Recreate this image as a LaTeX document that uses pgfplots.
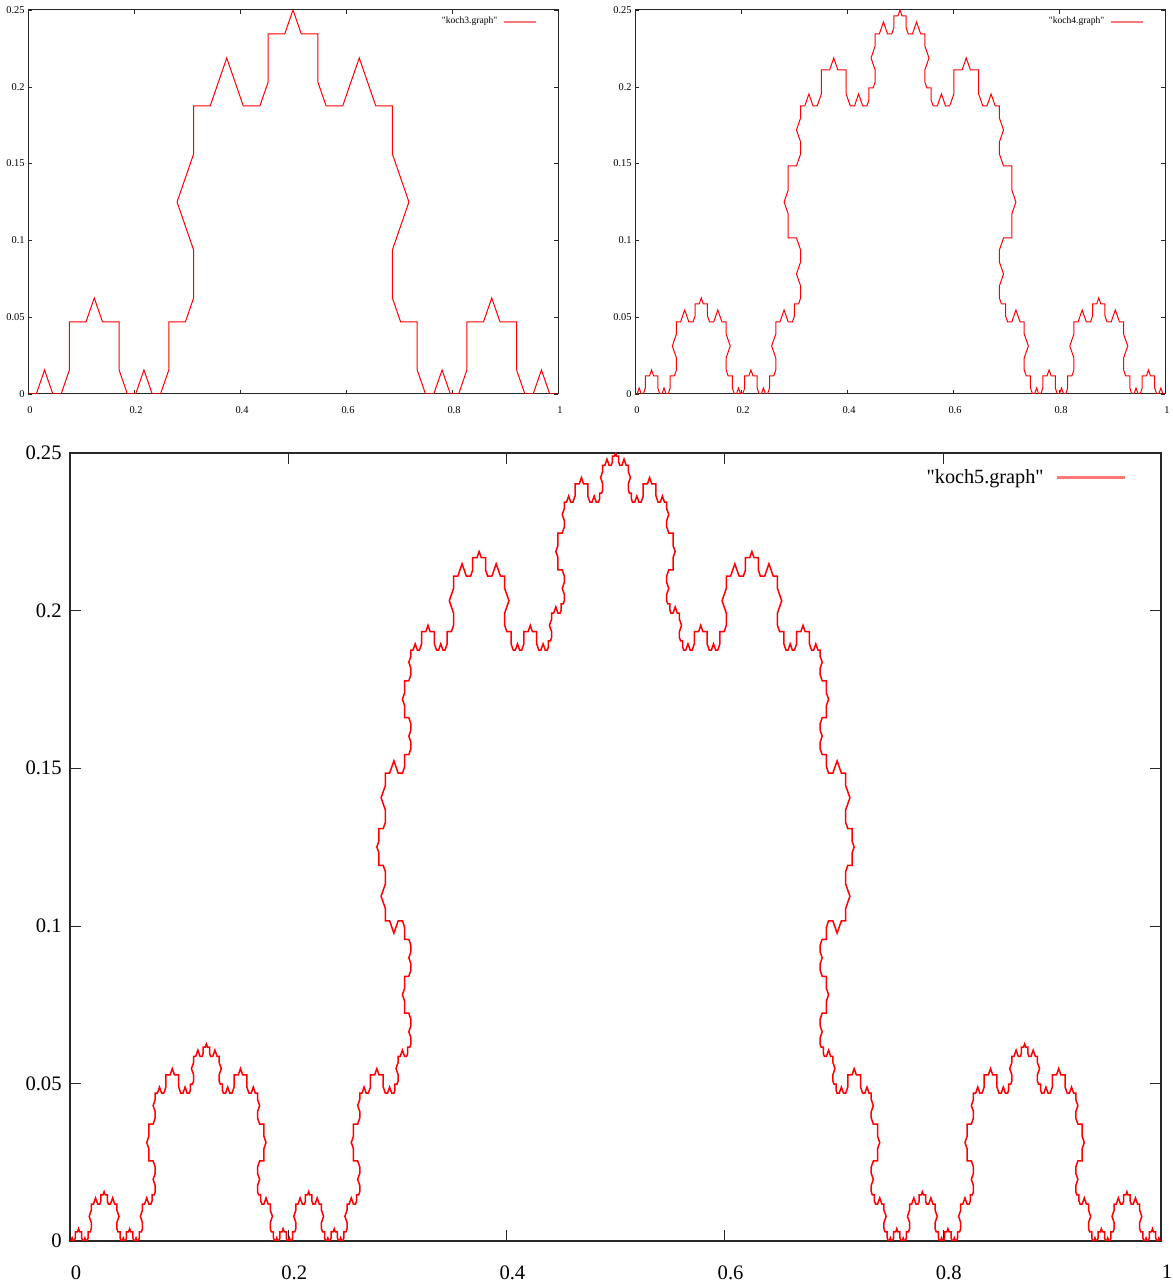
\documentclass[border=0pt]{standalone}
\usepackage{fontspec}
\setmainfont{Liberation Serif}[Ligatures=TeXOff]
\usepackage{pgfplots}
\pgfplotsset{compat=1.18}

\definecolor{curve}{RGB}{255,0,0}
\definecolor{keyline}{RGB}{255,120,120}
\definecolor{frame}{RGB}{40,40,40}

% gnuplot-like boxed axes, ticks inside on all four sides
\pgfplotsset{
  koch/.style={
    scale only axis, anchor=south west,
    xmin=0, xmax=1, ymin=0, ymax=0.25,
    xtick={0,0.2,0.4,0.6,0.8,1},
    xticklabels={0,0.2,0.4,0.6,0.8,1},
    ytick={0,0.05,0.1,0.15,0.2,0.25},
    yticklabels={0,0.05,0.1,0.15,0.2,0.25},
    tick align=inside,
    axis line style={frame},
    major tick style={frame},
    legend plot pos=right,
    legend style={draw=none, fill=none, anchor=east, at={(rel axis cs:1,1)}},
  },
  small koch/.style={koch,
    width=265pt, height=192pt,
    axis line style={line width=0.5pt},
    major tick length=2.2pt,
    tick label style={font=\fontsize{5.2}{6}\selectfont, inner sep=0pt},
    xticklabel style={yshift=-6pt, xshift=1pt},
    yticklabel style={xshift=-1.5pt},
    legend style={font=\fontsize{4.8}{5}\selectfont, xshift=-7.5pt, yshift=-6pt,
      column sep=3pt, nodes={inner sep=0pt}},
    legend image code/.code={\draw[keyline, line width=0.6pt] (0pt,0pt) -- (16pt,0pt);},
  },
  big koch/.style={koch,
    width=545.5pt, height=394pt,
    axis line style={line width=1.2pt},
    major tick length=5.5pt,
    tick label style={font=\fontsize{10.3}{12}\selectfont, inner sep=0pt},
    xticklabel style={yshift=-12pt, xshift=3pt},
    yticklabel style={xshift=-4pt},
    legend style={font=\fontsize{10.1}{12}\selectfont, xshift=-14pt, yshift=-12.5pt,
      column sep=6pt, nodes={inner sep=0pt}},
    legend image code/.code={\draw[keyline, line width=1.5pt] (0pt,0pt) -- (34pt,0pt);},
  },
}

\begin{document}
\begin{tikzpicture}
\useasboundingbox (0,0) rectangle (586pt,642pt);

% level 3, coordinates in units of 1/64
\begin{axis}[small koch, at={(14pt,445pt)}]
\addplot[curve, line width=0.5pt, x filter/.expression={x/64}, y filter/.expression={y/64}] coordinates {
(0,0)(1,0)(2,1)(3,0)(4,0)(5,1)(5,3)(7,3)(8,4)(9,3)(11,3)(11,1)(12,0)(13,0)(14,1)(15,0)
(16,0)(17,1)(17,3)(19,3)(20,4)(20,6)(18,8)(20,10)(20,12)(22,12)(24,14)(26,12)(28,12)(29,13)(29,15)(31,15)
(32,16)(33,15)(35,15)(35,13)(36,12)(38,12)(40,14)(42,12)(44,12)(44,10)(46,8)(44,6)(44,4)(45,3)(47,3)(47,1)
(48,0)(49,0)(50,1)(51,0)(52,0)(53,1)(53,3)(55,3)(56,4)(57,3)(59,3)(59,1)(60,0)(61,0)(62,1)(63,0)
(64,0)
};
\addlegendentry{"koch3.graph"}
\end{axis}

% level 4, coordinates in units of 1/256
\begin{axis}[small koch, at={(317.5pt,445pt)}]
\addplot[curve, line width=0.5pt, x filter/.expression={x/256}, y filter/.expression={y/256}] coordinates {
(0,0)(1,0)(2,1)(3,0)(4,0)(5,1)(5,3)(7,3)(8,4)(9,3)(11,3)(11,1)(12,0)(13,0)(14,1)(15,0)
(16,0)(17,1)(17,3)(19,3)(20,4)(20,6)(18,8)(20,10)(20,12)(22,12)(24,14)(26,12)(28,12)(29,13)(29,15)(31,15)
(32,16)(33,15)(35,15)(35,13)(36,12)(38,12)(40,14)(42,12)(44,12)(44,10)(46,8)(44,6)(44,4)(45,3)(47,3)(47,1)
(48,0)(49,0)(50,1)(51,0)(52,0)(53,1)(53,3)(55,3)(56,4)(57,3)(59,3)(59,1)(60,0)(61,0)(62,1)(63,0)
(64,0)
(65,1)(65,3)(67,3)(68,4)(68,6)(66,8)(68,10)(68,12)(70,12)(72,14)(74,12)(76,12)(77,13)(77,15)(79,15)(80,16)
(80,18)(78,20)(80,22)(80,24)(78,26)(74,26)(74,30)(72,32)(74,34)(74,38)(78,38)(80,40)(80,42)(78,44)(80,46)(80,48)
(82,48)(84,50)(86,48)(88,48)(90,50)(90,54)(94,54)(96,56)(98,54)(102,54)(102,50)(104,48)(106,48)(108,50)(110,48)(112,48)
(113,49)(113,51)(115,51)(116,52)(116,54)(114,56)(116,58)(116,60)(118,60)(120,62)(122,60)(124,60)(125,61)(125,63)(127,63)(128,64)
(129,63)(131,63)(131,61)(132,60)(134,60)(136,62)(138,60)(140,60)(140,58)(142,56)(140,54)(140,52)(141,51)(143,51)(143,49)(144,48)
(146,48)(148,50)(150,48)(152,48)(154,50)(154,54)(158,54)(160,56)(162,54)(166,54)(166,50)(168,48)(170,48)(172,50)(174,48)(176,48)
(176,46)(178,44)(176,42)(176,40)(178,38)(182,38)(182,34)(184,32)(182,30)(182,26)(178,26)(176,24)(176,22)(178,20)(176,18)(176,16)
(177,15)(179,15)(179,13)(180,12)(182,12)(184,14)(186,12)(188,12)(188,10)(190,8)(188,6)(188,4)(189,3)(191,3)(191,1)(192,0)
(193,0)(194,1)(195,0)(196,0)(197,1)(197,3)(199,3)(200,4)(201,3)(203,3)(203,1)(204,0)(205,0)(206,1)(207,0)(208,0)
(209,1)(209,3)(211,3)(212,4)(212,6)(210,8)(212,10)(212,12)(214,12)(216,14)(218,12)(220,12)(221,13)(221,15)(223,15)(224,16)
(225,15)(227,15)(227,13)(228,12)(230,12)(232,14)(234,12)(236,12)(236,10)(238,8)(236,6)(236,4)(237,3)(239,3)(239,1)(240,0)
(241,0)(242,1)(243,0)(244,0)(245,1)(245,3)(247,3)(248,4)(249,3)(251,3)(251,1)(252,0)(253,0)(254,1)(255,0)(256,0)
};
\addlegendentry{"koch4.graph"}
\end{axis}

% level 5, coordinates in units of 1/1024
\begin{axis}[big koch, at={(35pt,21.5pt)}]
\addplot[curve, line width=0.75pt, x filter/.expression={x/1024}, y filter/.expression={y/1024}] coordinates {
(0,0)(1,0)(2,1)(3,0)(4,0)(5,1)(5,3)(7,3)(8,4)(9,3)(11,3)(11,1)(12,0)(13,0)(14,1)(15,0)
(16,0)(17,1)(17,3)(19,3)(20,4)(20,6)(18,8)(20,10)(20,12)(22,12)(24,14)(26,12)(28,12)(29,13)(29,15)(31,15)
(32,16)(33,15)(35,15)(35,13)(36,12)(38,12)(40,14)(42,12)(44,12)(44,10)(46,8)(44,6)(44,4)(45,3)(47,3)(47,1)
(48,0)(49,0)(50,1)(51,0)(52,0)(53,1)(53,3)(55,3)(56,4)(57,3)(59,3)(59,1)(60,0)(61,0)(62,1)(63,0)
(64,0)
(65,1)(65,3)(67,3)(68,4)(68,6)(66,8)(68,10)(68,12)(70,12)(72,14)(74,12)(76,12)(77,13)(77,15)(79,15)(80,16)
(80,18)(78,20)(80,22)(80,24)(78,26)(74,26)(74,30)(72,32)(74,34)(74,38)(78,38)(80,40)(80,42)(78,44)(80,46)(80,48)
(82,48)(84,50)(86,48)(88,48)(90,50)(90,54)(94,54)(96,56)(98,54)(102,54)(102,50)(104,48)(106,48)(108,50)(110,48)(112,48)
(113,49)(113,51)(115,51)(116,52)(116,54)(114,56)(116,58)(116,60)(118,60)(120,62)(122,60)(124,60)(125,61)(125,63)(127,63)(128,64)
(129,63)(131,63)(131,61)(132,60)(134,60)(136,62)(138,60)(140,60)(140,58)(142,56)(140,54)(140,52)(141,51)(143,51)(143,49)(144,48)
(146,48)(148,50)(150,48)(152,48)(154,50)(154,54)(158,54)(160,56)(162,54)(166,54)(166,50)(168,48)(170,48)(172,50)(174,48)(176,48)
(176,46)(178,44)(176,42)(176,40)(178,38)(182,38)(182,34)(184,32)(182,30)(182,26)(178,26)(176,24)(176,22)(178,20)(176,18)(176,16)
(177,15)(179,15)(179,13)(180,12)(182,12)(184,14)(186,12)(188,12)(188,10)(190,8)(188,6)(188,4)(189,3)(191,3)(191,1)(192,0)
(193,0)(194,1)(195,0)(196,0)(197,1)(197,3)(199,3)(200,4)(201,3)(203,3)(203,1)(204,0)(205,0)(206,1)(207,0)(208,0)
(209,1)(209,3)(211,3)(212,4)(212,6)(210,8)(212,10)(212,12)(214,12)(216,14)(218,12)(220,12)(221,13)(221,15)(223,15)(224,16)
(225,15)(227,15)(227,13)(228,12)(230,12)(232,14)(234,12)(236,12)(236,10)(238,8)(236,6)(236,4)(237,3)(239,3)(239,1)(240,0)
(241,0)(242,1)(243,0)(244,0)(245,1)(245,3)(247,3)(248,4)(249,3)(251,3)(251,1)(252,0)(253,0)(254,1)(255,0)(256,0)
(257,1)(257,3)(259,3)(260,4)(260,6)(258,8)(260,10)(260,12)(262,12)(264,14)(266,12)(268,12)(269,13)(269,15)(271,15)(272,16)
(272,18)(270,20)(272,22)(272,24)(270,26)(266,26)(266,30)(264,32)(266,34)(266,38)(270,38)(272,40)(272,42)(270,44)(272,46)(272,48)
(274,48)(276,50)(278,48)(280,48)(282,50)(282,54)(286,54)(288,56)(290,54)(294,54)(294,50)(296,48)(298,48)(300,50)(302,48)(304,48)
(305,49)(305,51)(307,51)(308,52)(308,54)(306,56)(308,58)(308,60)(310,60)(312,62)(314,60)(316,60)(317,61)(317,63)(319,63)(320,64)
(320,66)(318,68)(320,70)(320,72)(318,74)(314,74)(314,78)(312,80)(314,82)(314,86)(318,86)(320,88)(320,90)(318,92)(320,94)(320,96)
(318,98)(314,98)(314,102)(312,104)(308,104)(304,100)(300,104)(296,104)(296,108)(292,112)(296,116)(296,120)(294,122)(290,122)(290,126)(288,128)
(290,130)(290,134)(294,134)(296,136)(296,140)(292,144)(296,148)(296,152)(300,152)(304,156)(308,152)(312,152)(314,154)(314,158)(318,158)(320,160)
(320,162)(318,164)(320,166)(320,168)(318,170)(314,170)(314,174)(312,176)(314,178)(314,182)(318,182)(320,184)(320,186)(318,188)(320,190)(320,192)
(322,192)(324,194)(326,192)(328,192)(330,194)(330,198)(334,198)(336,200)(338,198)(342,198)(342,194)(344,192)(346,192)(348,194)(350,192)(352,192)
(354,194)(354,198)(358,198)(360,200)(360,204)(356,208)(360,212)(360,216)(364,216)(368,220)(372,216)(376,216)(378,218)(378,222)(382,222)(384,224)
(386,222)(390,222)(390,218)(392,216)(396,216)(400,220)(404,216)(408,216)(408,212)(412,208)(408,204)(408,200)(410,198)(414,198)(414,194)(416,192)
(418,192)(420,194)(422,192)(424,192)(426,194)(426,198)(430,198)(432,200)(434,198)(438,198)(438,194)(440,192)(442,192)(444,194)(446,192)(448,192)
(449,193)(449,195)(451,195)(452,196)(452,198)(450,200)(452,202)(452,204)(454,204)(456,206)(458,204)(460,204)(461,205)(461,207)(463,207)(464,208)
(464,210)(462,212)(464,214)(464,216)(462,218)(458,218)(458,222)(456,224)(458,226)(458,230)(462,230)(464,232)(464,234)(462,236)(464,238)(464,240)
(466,240)(468,242)(470,240)(472,240)(474,242)(474,246)(478,246)(480,248)(482,246)(486,246)(486,242)(488,240)(490,240)(492,242)(494,240)(496,240)
(497,241)(497,243)(499,243)(500,244)(500,246)(498,248)(500,250)(500,252)(502,252)(504,254)(506,252)(508,252)(509,253)(509,255)(511,255)(512,256)
(513,255)(515,255)(515,253)(516,252)(518,252)(520,254)(522,252)(524,252)(524,250)(526,248)(524,246)(524,244)(525,243)(527,243)(527,241)(528,240)
(530,240)(532,242)(534,240)(536,240)(538,242)(538,246)(542,246)(544,248)(546,246)(550,246)(550,242)(552,240)(554,240)(556,242)(558,240)(560,240)
(560,238)(562,236)(560,234)(560,232)(562,230)(566,230)(566,226)(568,224)(566,222)(566,218)(562,218)(560,216)(560,214)(562,212)(560,210)(560,208)
(561,207)(563,207)(563,205)(564,204)(566,204)(568,206)(570,204)(572,204)(572,202)(574,200)(572,198)(572,196)(573,195)(575,195)(575,193)(576,192)
(578,192)(580,194)(582,192)(584,192)(586,194)(586,198)(590,198)(592,200)(594,198)(598,198)(598,194)(600,192)(602,192)(604,194)(606,192)(608,192)
(610,194)(610,198)(614,198)(616,200)(616,204)(612,208)(616,212)(616,216)(620,216)(624,220)(628,216)(632,216)(634,218)(634,222)(638,222)(640,224)
(642,222)(646,222)(646,218)(648,216)(652,216)(656,220)(660,216)(664,216)(664,212)(668,208)(664,204)(664,200)(666,198)(670,198)(670,194)(672,192)
(674,192)(676,194)(678,192)(680,192)(682,194)(682,198)(686,198)(688,200)(690,198)(694,198)(694,194)(696,192)(698,192)(700,194)(702,192)(704,192)
(704,190)(706,188)(704,186)(704,184)(706,182)(710,182)(710,178)(712,176)(710,174)(710,170)(706,170)(704,168)(704,166)(706,164)(704,162)(704,160)
(706,158)(710,158)(710,154)(712,152)(716,152)(720,156)(724,152)(728,152)(728,148)(732,144)(728,140)(728,136)(730,134)(734,134)(734,130)(736,128)
(734,126)(734,122)(730,122)(728,120)(728,116)(732,112)(728,108)(728,104)(724,104)(720,100)(716,104)(712,104)(710,102)(710,98)(706,98)(704,96)
(704,94)(706,92)(704,90)(704,88)(706,86)(710,86)(710,82)(712,80)(710,78)(710,74)(706,74)(704,72)(704,70)(706,68)(704,66)(704,64)
(705,63)(707,63)(707,61)(708,60)(710,60)(712,62)(714,60)(716,60)(716,58)(718,56)(716,54)(716,52)(717,51)(719,51)(719,49)(720,48)
(722,48)(724,50)(726,48)(728,48)(730,50)(730,54)(734,54)(736,56)(738,54)(742,54)(742,50)(744,48)(746,48)(748,50)(750,48)(752,48)
(752,46)(754,44)(752,42)(752,40)(754,38)(758,38)(758,34)(760,32)(758,30)(758,26)(754,26)(752,24)(752,22)(754,20)(752,18)(752,16)
(753,15)(755,15)(755,13)(756,12)(758,12)(760,14)(762,12)(764,12)(764,10)(766,8)(764,6)(764,4)(765,3)(767,3)(767,1)(768,0)
(769,0)(770,1)(771,0)(772,0)(773,1)(773,3)(775,3)(776,4)(777,3)(779,3)(779,1)(780,0)(781,0)(782,1)(783,0)(784,0)
(785,1)(785,3)(787,3)(788,4)(788,6)(786,8)(788,10)(788,12)(790,12)(792,14)(794,12)(796,12)(797,13)(797,15)(799,15)(800,16)
(801,15)(803,15)(803,13)(804,12)(806,12)(808,14)(810,12)(812,12)(812,10)(814,8)(812,6)(812,4)(813,3)(815,3)(815,1)(816,0)
(817,0)(818,1)(819,0)(820,0)(821,1)(821,3)(823,3)(824,4)(825,3)(827,3)(827,1)(828,0)(829,0)(830,1)(831,0)(832,0)
(833,1)(833,3)(835,3)(836,4)(836,6)(834,8)(836,10)(836,12)(838,12)(840,14)(842,12)(844,12)(845,13)(845,15)(847,15)(848,16)
(848,18)(846,20)(848,22)(848,24)(846,26)(842,26)(842,30)(840,32)(842,34)(842,38)(846,38)(848,40)(848,42)(846,44)(848,46)(848,48)
(850,48)(852,50)(854,48)(856,48)(858,50)(858,54)(862,54)(864,56)(866,54)(870,54)(870,50)(872,48)(874,48)(876,50)(878,48)(880,48)
(881,49)(881,51)(883,51)(884,52)(884,54)(882,56)(884,58)(884,60)(886,60)(888,62)(890,60)(892,60)(893,61)(893,63)(895,63)(896,64)
(897,63)(899,63)(899,61)(900,60)(902,60)(904,62)(906,60)(908,60)(908,58)(910,56)(908,54)(908,52)(909,51)(911,51)(911,49)(912,48)
(914,48)(916,50)(918,48)(920,48)(922,50)(922,54)(926,54)(928,56)(930,54)(934,54)(934,50)(936,48)(938,48)(940,50)(942,48)(944,48)
(944,46)(946,44)(944,42)(944,40)(946,38)(950,38)(950,34)(952,32)(950,30)(950,26)(946,26)(944,24)(944,22)(946,20)(944,18)(944,16)
(945,15)(947,15)(947,13)(948,12)(950,12)(952,14)(954,12)(956,12)(956,10)(958,8)(956,6)(956,4)(957,3)(959,3)(959,1)(960,0)
(961,0)(962,1)(963,0)(964,0)(965,1)(965,3)(967,3)(968,4)(969,3)(971,3)(971,1)(972,0)(973,0)(974,1)(975,0)(976,0)
(977,1)(977,3)(979,3)(980,4)(980,6)(978,8)(980,10)(980,12)(982,12)(984,14)(986,12)(988,12)(989,13)(989,15)(991,15)(992,16)
(993,15)(995,15)(995,13)(996,12)(998,12)(1000,14)(1002,12)(1004,12)(1004,10)(1006,8)(1004,6)(1004,4)(1005,3)(1007,3)(1007,1)(1008,0)
(1009,0)(1010,1)(1011,0)(1012,0)(1013,1)(1013,3)(1015,3)(1016,4)(1017,3)(1019,3)(1019,1)(1020,0)(1021,0)(1022,1)(1023,0)(1024,0)
};
\addlegendentry{"koch5.graph"}
\end{axis}
\end{tikzpicture}
\end{document}
